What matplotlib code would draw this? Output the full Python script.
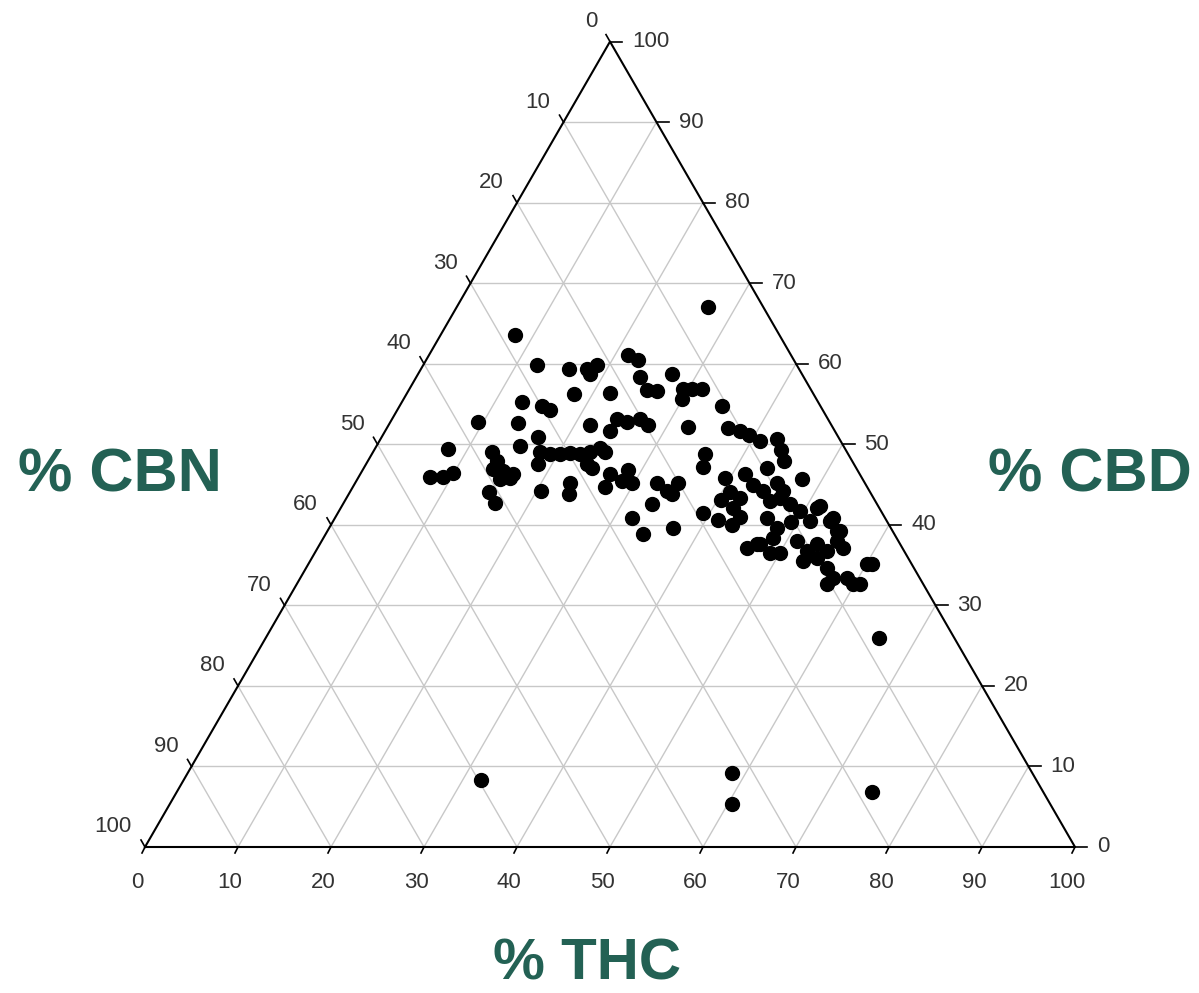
import numpy as np
import matplotlib.pyplot as plt

plt.rcParams["font.family"] = ["Liberation Sans", "DejaVu Sans"]

# sample composition in percent (CBN = 100 - THC - CBD)
thc = [8.0, 12.2, 15.9, 17.9, 18.6, 18.5, 21.4, 22.8, 24.0, 25.6,
       26.8, 18.0, 21.8, 12.9, 15.3, 16.4, 9.4, 13.8, 21.6, 24.2,
       25.4, 24.2, 26.7, 27.9, 7.9, 15.4, 16.8, 12.8, 13.9, 17.9,
       19.1, 20.2, 21.3, 22.4, 23.3, 24.2, 24.9, 23.7, 24.6, 18.5,
       7.7, 9.1, 9.9, 14.0, 15.1, 16.4, 15.3, 16.3, 14.9, 16.3,
       20.5, 23.1, 23.7, 26.9, 28.5, 29.8, 27.1, 28.6, 32.5, 34.0,
       34.7, 34.8, 33.2, 32.0, 34.1, 37.0, 27.0, 27.3, 29.4, 30.4,
       31.4, 29.9, 34.7, 32.3, 36.7, 38.2, 39.4, 40.9, 42.6, 43.7,
       44.8, 35.8, 36.4, 43.4, 47.8, 39.5, 41.4, 42.9, 40.9, 40.4,
       42.3, 44.4, 45.4, 46.5, 45.8, 48.1, 39.3, 41.3, 43.1, 43.5,
       46.5, 48.2, 49.3, 49.6, 51.2, 51.3, 53.4, 54.8, 46.2, 47.0,
       48.3, 50.0, 49.0, 51.1, 52.8, 53.0, 54.3, 54.9, 55.4, 56.5,
       56.0, 57.3, 57.0, 58.8, 60.5, 60.1, 60.6, 46.6, 51.4, 53.6,
       55.1, 47.3, 53.5, 59.8, 42.2, 65.9, 32.0, 58.5, 60.4, 74.8]
cbd = [63.6, 59.9, 59.3, 59.3, 59.9, 58.7, 61.1, 60.5, 58.4, 56.8,
       56.6, 56.3, 56.4, 55.3, 54.7, 54.2, 52.8, 52.7, 52.4, 53.2,
       52.8, 51.6, 53.1, 52.4, 49.4, 49.8, 50.9, 49.1, 47.9, 49.1,
       48.8, 48.8, 48.9, 48.8, 49.1, 49.5, 49.1, 47.6, 47.0, 47.5,
       45.9, 45.9, 46.4, 46.9, 46.7, 46.3, 45.7, 45.8, 44.1, 42.7,
       44.2, 45.2, 43.8, 46.3, 46.8, 45.2, 44.7, 45.4, 45.2, 44.2,
       45.2, 43.8, 42.6, 40.8, 38.9, 39.6, 67.1, 58.7, 56.9, 56.9,
       56.9, 55.6, 54.7, 52.1, 52.0, 51.6, 51.1, 50.4, 50.7, 49.3,
       47.9, 48.8, 47.2, 47.0, 45.7, 45.8, 46.3, 45.0, 44.1, 43.1,
       43.3, 44.2, 45.2, 44.2, 42.9, 42.6, 41.5, 40.6, 40.0, 41.0,
       40.8, 39.6, 40.3, 41.7, 42.1, 40.5, 40.5, 39.2, 37.1, 37.6,
       38.4, 36.5, 36.5, 38.0, 36.8, 35.5, 35.9, 36.8, 38.0, 37.1,
       34.7, 33.4, 32.7, 33.4, 32.7, 35.1, 35.1, 43.3, 42.3, 40.8,
       39.2, 37.6, 37.6, 32.7, 42.1, 26.0, 8.3, 9.2, 5.4, 6.8]

levels = list(range(0, 101, 10))
grid_levels = levels[1:-1]
axis_titles = ["% CBN", "% CBD", "% THC"]

H = np.sqrt(3) / 2
W, HGT = 1199, 993
PX = 1 / 930.0  # one pixel in triangle units


def to_xy(t, c):
    t = np.asarray(t) / 100.0
    c = np.asarray(c) / 100.0
    return t + c / 2, c * H


fig = plt.figure(figsize=(W / 100, HGT / 100), dpi=100)
ax = fig.add_axes([145 / W, (HGT - 847) / HGT, 930 / W, 930 * H / HGT])
ax.set_xlim(0, 1)
ax.set_ylim(0, H)
ax.axis("off")

grid_kw = dict(color="#c8c8c8", lw=1.0, zorder=1)
for v in grid_levels:
    f = v / 100.0
    # constant CBD (horizontal)
    ax.plot([f / 2, 1 - f / 2], [f * H, f * H], **grid_kw)
    # constant THC
    ax.plot([f, f + (1 - f) / 2], [0, (1 - f) * H], **grid_kw)
    # constant CBN
    ax.plot([(1 - f) / 2, 1 - f], [(1 - f) * H, 0], **grid_kw)

# triangle outline
ax.plot([0, 1, 0.5, 0], [0, 0, H, 0], color="black", lw=1.5, zorder=2,
        clip_on=False)

tick_kw = dict(color="black", lw=1.2, clip_on=False, zorder=2)
lab_kw = dict(fontsize=16, color="#333333")
for v in levels:
    f = v / 100.0
    # THC along the bottom
    ax.plot([f, f - 3 * PX], [0, -6 * PX], **tick_kw)
    ax.text(f - 8 * PX, -36 * PX, str(v), ha="center", va="center", **lab_kw)
    # CBD along the right edge
    x, y = 1 - f / 2, f * H
    ax.plot([x, x + 12 * PX], [y, y], **tick_kw)
    ax.text(x + 22 * PX, y, str(v), ha="left", va="center", **lab_kw)
    # CBN along the left edge
    x, y = (1 - f) / 2, (1 - f) * H
    ax.plot([x, x - 4 * PX], [y, y + 7 * PX], **tick_kw)
    ax.text(x - 13 * PX, y + 20 * PX, str(v), ha="right", va="center", **lab_kw)

px, py = to_xy(thc, cbd)
ax.scatter(px, py, s=100, color="black", zorder=3, clip_on=False)

title_kw = dict(fontweight="bold", color="#236154", ha="center",
                va="baseline")
fig.text(120 / W, 1 - 491 / HGT, axis_titles[0], fontsize=44, **title_kw)
fig.text(1090 / W, 1 - 491 / HGT, axis_titles[1], fontsize=44, **title_kw)
fig.text(587 / W, 1 - 980 / HGT, axis_titles[2], fontsize=42, **title_kw)

fig.savefig("out.png", dpi=100, facecolor="white")
